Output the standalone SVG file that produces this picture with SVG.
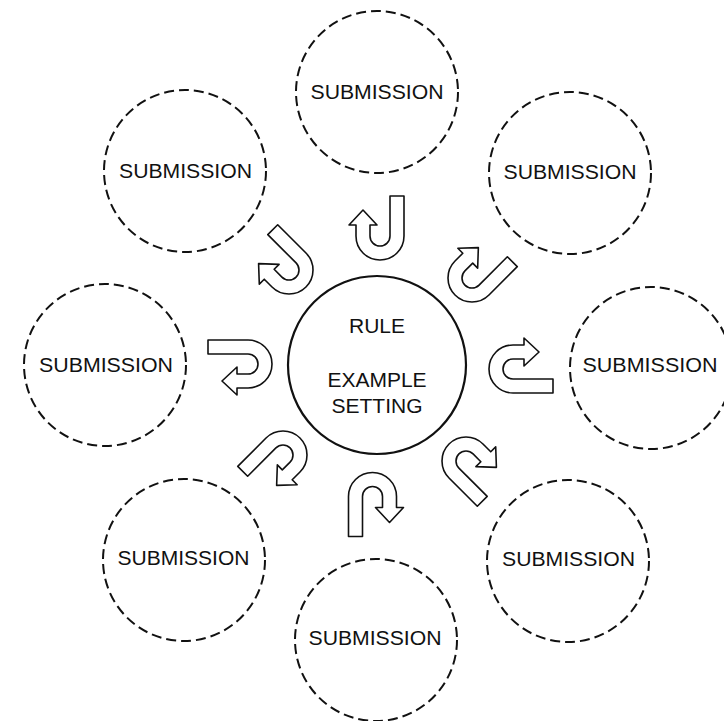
<svg xmlns="http://www.w3.org/2000/svg" xmlns:xlink="http://www.w3.org/1999/xlink" width="724" height="721" viewBox="0 0 724 721">
<style>
.sub{fill:none;stroke:#111;stroke-width:2;stroke-dasharray:10 5}
.hub{fill:none;stroke:#111;stroke-width:2.2}
.lbl{font-family:"Liberation Sans",Arial,sans-serif;font-size:20px;fill:#111;text-anchor:middle}
.hubt{font-family:"Liberation Sans",Arial,sans-serif;font-size:21px;fill:#111;text-anchor:middle}
.arr{fill:#fff;stroke:#111;stroke-width:1.6;stroke-linejoin:round}
</style>
<defs>
<path id="uturn" class="arr" d="M24 -40 L24 0 A24 24 0 0 1 -24 0 L-24 -11 L-31 -11 L-17 -26 L-3 -11 L-10 -11 L-10 0 A10 10 0 0 0 10 0 L10 -40 Z"/>
</defs>
<rect width="724" height="721" fill="#fff"/>
<g id="hub">
<circle class="hub" cx="377" cy="365" r="89"/>
<text class="hubt" x="377" y="333">RULE</text>
<text class="hubt" x="377" y="387">EXAMPLE</text>
<text class="hubt" x="377" y="413">SETTING</text>
</g>
<g id="sub-top"><circle class="sub" cx="377" cy="92" r="81"/><text class="lbl" x="377" y="99" textLength="133" lengthAdjust="spacingAndGlyphs">SUBMISSION</text></g>
<g id="sub-top-right"><circle class="sub" cx="570" cy="173" r="81"/><text class="lbl" x="570" y="179" textLength="133" lengthAdjust="spacingAndGlyphs">SUBMISSION</text></g>
<g id="sub-right"><circle class="sub" cx="651" cy="368" r="81"/><text class="lbl" x="650" y="372" textLength="135" lengthAdjust="spacingAndGlyphs">SUBMISSION</text></g>
<g id="sub-bottom-right"><circle class="sub" cx="568" cy="561" r="81"/><text class="lbl" x="568.5" y="566" textLength="133" lengthAdjust="spacingAndGlyphs">SUBMISSION</text></g>
<g id="sub-bottom"><circle class="sub" cx="376" cy="640" r="81"/><text class="lbl" x="375" y="645" textLength="133" lengthAdjust="spacingAndGlyphs">SUBMISSION</text></g>
<g id="sub-bottom-left"><circle class="sub" cx="184" cy="560" r="81"/><text class="lbl" x="183.5" y="565" textLength="132" lengthAdjust="spacingAndGlyphs">SUBMISSION</text></g>
<g id="sub-left"><circle class="sub" cx="105" cy="365" r="81"/><text class="lbl" x="106" y="372" textLength="134" lengthAdjust="spacingAndGlyphs">SUBMISSION</text></g>
<g id="sub-top-left"><circle class="sub" cx="185" cy="171" r="81"/><text class="lbl" x="185.5" y="178" textLength="133" lengthAdjust="spacingAndGlyphs">SUBMISSION</text></g>
<g id="connectors">
<use xlink:href="#uturn" href="#uturn" transform="translate(380 236)"/>
<use xlink:href="#uturn" href="#uturn" transform="translate(472 278) rotate(45)"/>
<use xlink:href="#uturn" href="#uturn" transform="translate(513 369) rotate(90)"/>
<use xlink:href="#uturn" href="#uturn" transform="translate(466 461) rotate(135)"/>
<use xlink:href="#uturn" href="#uturn" transform="translate(372.5 496.5) rotate(180)"/>
<use xlink:href="#uturn" href="#uturn" transform="translate(283 455) rotate(225)"/>
<use xlink:href="#uturn" href="#uturn" transform="translate(248 364) rotate(270)"/>
<use xlink:href="#uturn" href="#uturn" transform="translate(289 270) rotate(315)"/>
</g>
</svg>
